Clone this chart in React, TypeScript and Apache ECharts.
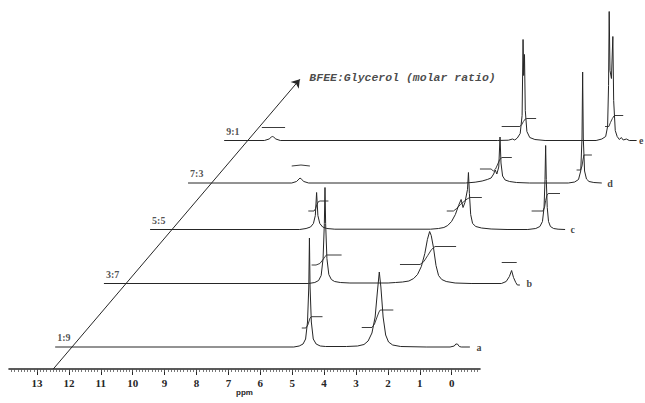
import React, { useEffect, useRef } from "react";
import * as echarts from "echarts";

// ---------- data (local chemical shift in ppm, intensity) ----------
const traceNames = ["a", "b", "c", "d", "e"];
const ratioLabels = ["1:9", "3:7", "5:5", "7:3", "9:1"];
const titleText = "BFEE:Glycerol (molar ratio)";
const axisName = "ppm";

// stacking offsets of each spectrum (ppm shift to the right, intensity lift)
const shiftPpm = [0, 1.608, 3.135, 4.335, 5.527];
const stackY = [0, 63.5, 117.5, 164, 206.5];

const traceA = [
  [12.43, 0], [4.95, 0], [4.78, 1], [4.66, 3], [4.58, 8], [4.52, 25], [4.48, 60], [4.46, 109],
  [4.44, 60], [4.4, 25], [4.34, 8], [4.25, 3], [4.12, 1], [3.95, 0.5], [3.3, 0.5], [2.95, 1],
  [2.75, 2.5], [2.62, 6], [2.5, 14], [2.4, 30], [2.33, 55], [2.27, 75], [2.22, 60], [2.15, 30],
  [2.07, 12], [1.98, 5], [1.85, 2], [1.6, 0.5], [0.8, 0], [0.05, 0], [-0.08, 1], [-0.13, 3],
  [-0.18, 3], [-0.24, 0.5], [-0.3, 0], [-0.57, 0],
];
const traceB = [
  [12.51, 0], [6.1, 0], [5.9, 1], [5.78, 3], [5.7, 8], [5.64, 25], [5.6, 60], [5.58, 96],
  [5.56, 60], [5.52, 25], [5.46, 9], [5.38, 4], [5.28, 2], [5.1, 1], [4.8, 0.5], [3.6, 0.5],
  [3.37, 1], [3.15, 1.5], [2.95, 2.5], [2.8, 5], [2.68, 9], [2.56, 17], [2.45, 30], [2.37, 44],
  [2.3, 52], [2.25, 48], [2.18, 36], [2.1, 18], [2.02, 8], [1.92, 4], [1.78, 2], [1.5, 0.5],
  [1.0, 0], [0.05, 0], [-0.1, 2], [-0.2, 7], [-0.27, 13], [-0.33, 6], [-0.4, 1], [-0.45, -1.5],
  [-0.53, -1.5],
];
const traceC = [
  [12.59, 0], [7.9, 0], [7.7, 1], [7.56, 2.5], [7.47, 6], [7.41, 14], [7.37, 37], [7.33, 14],
  [7.27, 6], [7.18, 2.5], [7.05, 1], [6.8, 0.3], [3.8, 0.3], [3.55, 1], [3.38, 2], [3.26, 4],
  [3.14, 8], [3.02, 15], [2.92, 24], [2.84, 30], [2.78, 22], [2.72, 27], [2.64, 40], [2.61, 57],
  [2.58, 36], [2.54, 15], [2.48, 6], [2.38, 3], [2.2, 1.5], [1.9, 0.5], [1.4, 0], [0.75, 0],
  [0.5, 1], [0.37, 3], [0.29, 8], [0.24, 22], [0.21, 50], [0.19, 84], [0.17, 50], [0.14, 22],
  [0.1, 8], [0.04, 3], [-0.06, 1], [-0.2, 0.3], [-0.42, 0],
];
const traceD = [
  [12.6, 0], [9.35, 0], [9.2, 1.5], [9.12, 4], [9.09, 5], [9.05, 4], [8.97, 1.5], [8.82, 0],
  [3.9, 0], [3.6, 0.8], [3.38, 2], [3.22, 3.5], [3.1, 5], [3.02, 9], [2.97, 13], [2.92, 9],
  [2.86, 16], [2.82, 46], [2.79, 20], [2.74, 7], [2.66, 3], [2.52, 1.5], [2.3, 0.5], [1.9, 0],
  [0.68, 0], [0.48, 1], [0.36, 3.5], [0.29, 12], [0.25, 45], [0.23, 111], [0.21, 45], [0.17, 12],
  [0.11, 4], [0.03, 1.5], [-0.12, 0.5], [-0.37, 0],
];
const traceE = [
  [12.66, 0], [11.4, 0], [11.25, 1.5], [11.18, 3.5], [11.15, 4], [11.11, 3.5], [11.04, 1.5],
  [10.9, 0], [4.1, 0], [3.75, 0.3], [3.62, 1.5], [3.55, 0.5], [3.47, 2.5], [3.38, 7], [3.32, 25],
  [3.29, 101], [3.27, 65], [3.245, 86], [3.22, 30], [3.17, 9], [3.08, 3], [2.92, 1], [2.6, 0],
  [1.0, 0], [0.82, 1.5], [0.7, 4], [0.64, 14], [0.61, 55], [0.59, 129], [0.565, 70], [0.52, 62],
  [0.475, 104], [0.45, 40], [0.4, 10], [0.34, 4], [0.27, 1], [0.21, 3], [0.15, 0.5], [0.05, 1.5],
  [-0.04, 0], [-0.27, 0],
];

// integral curves
const integralsA = [
  [[4.7, 19], [4.57, 19], [4.51, 22], [4.47, 26], [4.44, 29], [4.4, 30.3], [4.05, 30.3]],
  [[2.82, 19.5], [2.5, 19.5], [2.42, 23], [2.34, 30], [2.28, 35], [2.24, 37], [1.83, 37]],
];
const integralsB = [
  [[6.0, 18.5], [5.86, 18.5], [5.74, 20], [5.64, 24], [5.58, 27], [5.53, 28.5], [5.06, 28.5]],
  [[3.23, 19], [2.6, 19], [2.48, 22], [2.36, 28], [2.24, 34], [2.13, 37], [1.47, 37]],
  [[0.04, 21], [-0.43, 21]],
];
const integralsC = [
  [[7.63, 18.5], [7.45, 18.5], [7.4, 21], [7.36, 25], [7.31, 28], [7.26, 28.5], [7.0, 28.5]],
  [[3.29, 18.5], [3.08, 18.5], [2.98, 21], [2.86, 25], [2.75, 28], [2.63, 31], [2.56, 32], [2.19, 32]],
  [[0.63, 18.5], [0.27, 18.5], [0.22, 23], [0.19, 29], [0.15, 34], [0.11, 36], [-0.26, 36]],
];
const integralsD = [
  [[9.35, 17], [9.06, 18], [8.78, 17]],
  [[3.45, 14], [3.1, 14], [3.03, 12], [2.96, 14], [2.89, 19], [2.83, 23.5], [2.76, 25.5], [2.45, 25.5]],
  [[0.42, 13], [0.29, 13], [0.25, 17], [0.22, 23], [0.19, 28], [-0.06, 28]],
];
const integralsE = [
  [[11.48, 13], [10.75, 13]],
  [[3.96, 14], [3.39, 14], [3.33, 16], [3.28, 19], [3.22, 21.5], [3.17, 22], [2.88, 22]],
  [[0.72, 14], [0.6, 14], [0.55, 18], [0.49, 22], [0.44, 24.5], [0.41, 25], [0.15, 25]],
];

// ratio arrow (display ppm, intensity)
const arrowFrom = [12.49, -22];
const arrowTo = [4.76, 267.7];

// axis ticks
const majorTicks = [13, 12, 11, 10, 9, 8, 7, 6, 5, 4, 3, 2, 1, 0];
const minorTicks = Array.from({ length: 147 }, (_, k) => Math.round((-0.8 + k * 0.1) * 10) / 10);

const traces = [traceA, traceB, traceC, traceD, traceE];
const integrals = [integralsA, integralsB, integralsC, integralsD, integralsE];

// ---------- layout ----------
const W = 645;
const H = 403;
const PPX = 31.9; // pixels per ppm
const X0 = 451.7; // pixel of 0 ppm
const AX_LEFT = 9;
const AX_RIGHT = 480;
const AX_Y = 369;
const BASE_A = 347;
const LETTER_GAP = [6, 6, 5, 5, 2];

const INK = "#262626";

const hiddenDot = {
  type: "scatter",
  xAxisIndex: 2,
  yAxisIndex: 1,
  symbolSize: 1,
  itemStyle: { color: "rgba(0,0,0,0)" },
  silent: true,
};

export default function App() {
  const ref = useRef<HTMLDivElement>(null);

  useEffect(() => {
    if (!ref.current) return;
    const chart = echarts.init(ref.current, null, { renderer: "svg" });

    const series: any[] = [];
    traces.forEach((t, i) => {
      series.push({
        type: "line",
        xAxisIndex: 2,
        yAxisIndex: 1,
        data: t.map(([p, h]) => [p - shiftPpm[i], stackY[i] + h]),
        symbol: "none",
        silent: true,
        lineStyle: { color: INK, width: 1 },
        z: 3,
      });
      integrals[i].forEach((seg) => {
        series.push({
          type: "line",
          xAxisIndex: 2,
          yAxisIndex: 1,
          data: seg.map(([p, h]) => [p - shiftPpm[i], stackY[i] + h]),
          symbol: "none",
          silent: true,
          lineStyle: { color: INK, width: 0.9 },
          z: 3,
        });
      });
    });

    // trace letters at the end of each spectrum
    series.push({
      ...hiddenDot,
      data: traces.map((t, i) => {
        const last = t[t.length - 1];
        return {
          name: traceNames[i],
          value: [last[0] - shiftPpm[i], stackY[i]],
          label: { distance: LETTER_GAP[i] },
        };
      }),
      label: {
        show: true,
        formatter: "{b}",
        position: "right",
        distance: 6,
        color: "#111",
        fontSize: 10,
        fontWeight: "bold",
        fontFamily: "Liberation Serif",
      },
    });

    // ratio labels at the start of each spectrum
    series.push({
      ...hiddenDot,
      data: traces.map((t, i) => ({
        name: ratioLabels[i],
        value: [t[0][0] - shiftPpm[i], stackY[i]],
      })),
      label: {
        show: true,
        formatter: "{b}",
        position: "top",
        align: "left",
        distance: 4,
        offset: [2, 0],
        color: INK,
        fontSize: 10,
        fontWeight: "bold",
        fontFamily: "Liberation Serif",
      },
    });

    // ratio arrow + title
    series.push({
      ...hiddenDot,
      data: [{ name: titleText, value: arrowTo }],
      label: {
        show: true,
        formatter: "{b}",
        position: "right",
        distance: 9,
        offset: [0, -2],
        color: "#1a1a1a",
        fontSize: 11.5,
        fontStyle: "italic",
        fontWeight: "bold",
        fontFamily: "Liberation Mono",
      },
      markLine: {
        silent: true,
        symbol: ["none", "arrow"],
        symbolSize: 8,
        label: { show: false },
        lineStyle: { color: INK, width: 1, type: "solid" },
        data: [[{ coord: arrowFrom }, { coord: arrowTo }]],
      },
    });

    const option = {
      animation: false,
      backgroundColor: "#ffffff",
      grid: [
        {
          left: AX_LEFT,
          width: AX_RIGHT - AX_LEFT,
          top: AX_Y - 60,
          height: 60,
          containLabel: false,
          outerBoundsMode: "none",
        },
        { left: 0, top: 0, width: W, height: H, containLabel: false, outerBoundsMode: "none" },
      ],
      xAxis: [
        {
          gridIndex: 0,
          type: "value",
          inverse: true,
          position: "bottom",
          min: (X0 - AX_RIGHT) / PPX,
          max: (X0 - AX_LEFT) / PPX,
          splitLine: { show: false },
          axisLine: { show: true, lineStyle: { color: INK, width: 1.6 } },
          axisTick: { show: true, customValues: majorTicks, length: 6, lineStyle: { color: INK, width: 1 } },
          axisLabel: {
            show: true,
            customValues: majorTicks,
            margin: 8,
            color: INK,
            fontSize: 11,
            fontWeight: "bold",
            fontFamily: "Liberation Serif",
            formatter: (v: number) => String(Math.round(v)),
          },
          name: axisName,
          nameLocation: "middle",
          nameGap: 18,
          nameTextStyle: { color: INK, fontSize: 8, fontWeight: "bold", fontFamily: "Liberation Sans" },
        },
        {
          gridIndex: 0,
          type: "value",
          inverse: true,
          position: "bottom",
          offset: 0,
          min: (X0 - AX_RIGHT) / PPX,
          max: (X0 - AX_LEFT) / PPX,
          splitLine: { show: false },
          axisLine: { show: false },
          axisTick: { show: true, customValues: minorTicks, length: 3, lineStyle: { color: "#555", width: 0.8 } },
          axisLabel: { show: false },
        },
        {
          gridIndex: 1,
          type: "value",
          inverse: true,
          show: false,
          min: (X0 - W) / PPX,
          max: X0 / PPX,
        },
      ],
      yAxis: [
        { gridIndex: 0, type: "value", show: false, min: 0, max: 1 },
        { gridIndex: 1, type: "value", show: false, min: -(H - BASE_A), max: BASE_A },
      ],
      series,
    };

    chart.setOption(option as any);
    return () => chart.dispose();
  }, []);

  return (
    <div
      ref={ref}
      style={{ position: "fixed", left: 0, top: 0, width: W, height: H, background: "#fff" }}
    />
  );
}
